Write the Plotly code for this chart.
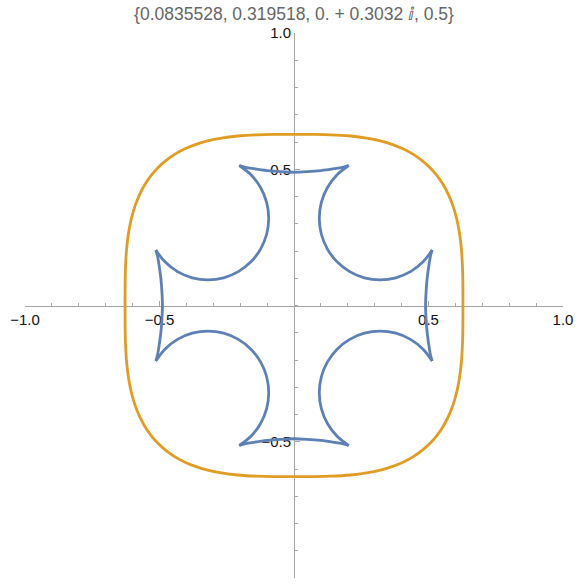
import plotly.graph_objects as go

TITLE = "{0.0835528, 0.319518, 0. + 0.3032 \u2148, 0.5}"

BLUE = "#5E81B5"
ORANGE = "#E19C24"
AXIS = "#a6a6a6"

# Outer (orange) curve: first octant, from the x-axis up to the diagonal
outer_oct_x = [0.6280, 0.6278, 0.6265, 0.6220, 0.6145, 0.6041, 0.5906, 0.5740, 0.5544, 0.5316, 0.5057]
outer_oct_y = [0.0000, 0.0700, 0.1367, 0.2103, 0.2698, 0.3212, 0.3666, 0.4072, 0.4437, 0.4764, 0.5057]

# Inner (blue) curve, upper-right lobe: circular arc between its two cusps
lobe_x = [0.2036, 0.1602, 0.1243, 0.1017, 0.0940, 0.1017, 0.1243, 0.1602,
          0.2070, 0.2615, 0.3200, 0.3785, 0.4330, 0.4798, 0.5137]
lobe_y = [0.5137, 0.4798, 0.4330, 0.3785, 0.3200, 0.2615, 0.2070, 0.1602,
          0.1243, 0.1017, 0.0940, 0.1017, 0.1243, 0.1602, 0.2036]

# Inner curve, right half of the top bridge joining two neighbouring cusps
bridge_x = [0.000, 0.050, 0.100, 0.150, 0.180, 0.2036]
bridge_y = [0.489, 0.491, 0.495, 0.502, 0.507, 0.5137]

# Axis ticks
major_ticks = [-1.0, -0.5, 0.5, 1.0]
major_text = ["\u22121.0", "\u22120.5", "0.5", "1.0"]

# ---- outer closed loop, built from the octant by the square's symmetries
q1 = list(zip(outer_oct_x, outer_oct_y))
q1 += [(y, x) for x, y in reversed(q1[:-1])]
loop = list(q1)
loop += [(-x, y) for x, y in reversed(q1)][1:]
loop += [(-x, -y) for x, y in q1][1:]
loop += [(x, -y) for x, y in reversed(q1)][1:]
outer_x = [p[0] for p in loop]
outer_y = [p[1] for p in loop]

# ---- inner curve: four lobes and four bridges, each its own segment
segments = []
for sx, sy in [(1, 1), (-1, 1), (-1, -1), (1, -1)]:
    segments.append(([sx * v for v in lobe_x], [sy * v for v in lobe_y]))

top_x = [-v for v in reversed(bridge_x)] + bridge_x[1:]
top_y = list(reversed(bridge_y)) + bridge_y[1:]
segments.append((top_x, top_y))
segments.append((top_x, [-v for v in top_y]))
segments.append((top_y, top_x))
segments.append(([-v for v in top_y], top_x))

inner_x, inner_y = [], []
for xs, ys in segments:
    inner_x += xs + [None]
    inner_y += ys + [None]

fig = go.Figure()
fig.add_trace(go.Scatter(x=inner_x, y=inner_y, mode="lines",
                         line=dict(color=BLUE, width=2.8, shape="spline", smoothing=1.0),
                         hoverinfo="skip", showlegend=False))
fig.add_trace(go.Scatter(x=outer_x, y=outer_y, mode="lines",
                         line=dict(color=ORANGE, width=2.8, shape="spline", smoothing=1.0),
                         hoverinfo="skip", showlegend=False))

axis_common = dict(
    range=[-1, 1],
    anchor="free",
    position=0.5,
    showline=True,
    linecolor=AXIS,
    linewidth=1,
    showgrid=False,
    zeroline=False,
    ticks="inside",
    ticklen=5,
    tickwidth=1,
    tickcolor=AXIS,
    tickvals=major_ticks,
    ticktext=major_text,
    tickfont=dict(family="Liberation Sans, Arial, sans-serif", size=15, color="#111111"),
    minor=dict(ticks="inside", ticklen=3, tickwidth=1, tickcolor=AXIS,
               tick0=0, dtick=0.1, showgrid=False),
    layer="below traces",
    fixedrange=True,
)

fig.update_layout(
    width=581,
    height=586,
    margin=dict(l=25, r=14, t=33, b=8),
    paper_bgcolor="white",
    plot_bgcolor="white",
    title=dict(text=TITLE, x=0.5, xref="paper", xanchor="center",
               y=1 - 14 / 586, yref="container", yanchor="middle",
               font=dict(family="Liberation Sans, Arial, sans-serif", size=17.5, color="#666666")),
    xaxis=dict(axis_common),
    yaxis=dict(axis_common),
    showlegend=False,
)

fig.write_html("out.html")
